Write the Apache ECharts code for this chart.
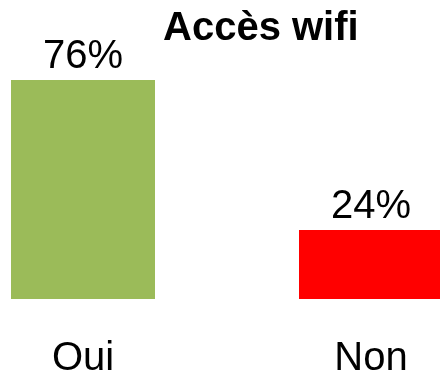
<!DOCTYPE html>
<html>
<head>
<meta charset="utf-8">
<script src="https://cdn.jsdelivr.net/npm/echarts@6/dist/echarts.min.js"></script>
<style>
  html, body { margin: 0; padding: 0; background: #fff; }
  #chart { width: 440px; height: 381px; }
</style>
</head>
<body>
<div id="chart"></div>
<script>
// Wifi access survey: share of answers
const categories = ['Oui', 'Non'];
const values = [76, 24];
const barColors = ['#9BBB59', '#FF0000'];
const titleText = 'Accès wifi';

const FONT = '"Liberation Sans", Arial, sans-serif';

const chart = echarts.init(document.getElementById('chart'), null, { renderer: 'canvas' });

chart.setOption({
  backgroundColor: '#ffffff',
  animation: false,
  title: {
    text: titleText,
    left: 163,
    top: 9,
    padding: 0,
    textStyle: { fontFamily: FONT, fontSize: 40, fontWeight: 'bold', color: '#000' }
  },
  // the plot area is wider than the canvas, so the right bar runs to the edge
  grid: {
    left: -61, width: 576, top: 11, bottom: 82,
    containLabel: false,
    outerBoundsMode: 'none'
  },
  xAxis: {
    type: 'category',
    data: categories,
    axisLine: { show: false },
    axisTick: { show: false },
    axisLabel: {
      margin: 40,
      fontFamily: FONT,
      fontSize: 40,
      color: '#000'
    }
  },
  yAxis: {
    type: 'value',
    min: 0,
    max: 100,
    show: false,
    splitLine: { show: false }
  },
  series: [{
    type: 'bar',
    barCategoryGap: '50%',
    data: values.map((v, i) => ({ value: v, itemStyle: { color: barColors[i] } })),
    label: {
      show: true,
      position: 'top',
      distance: 3,
      formatter: p => p.value + '%',
      fontFamily: FONT,
      fontSize: 40,
      color: '#000'
    }
  }]
});
</script>
</body>
</html>
